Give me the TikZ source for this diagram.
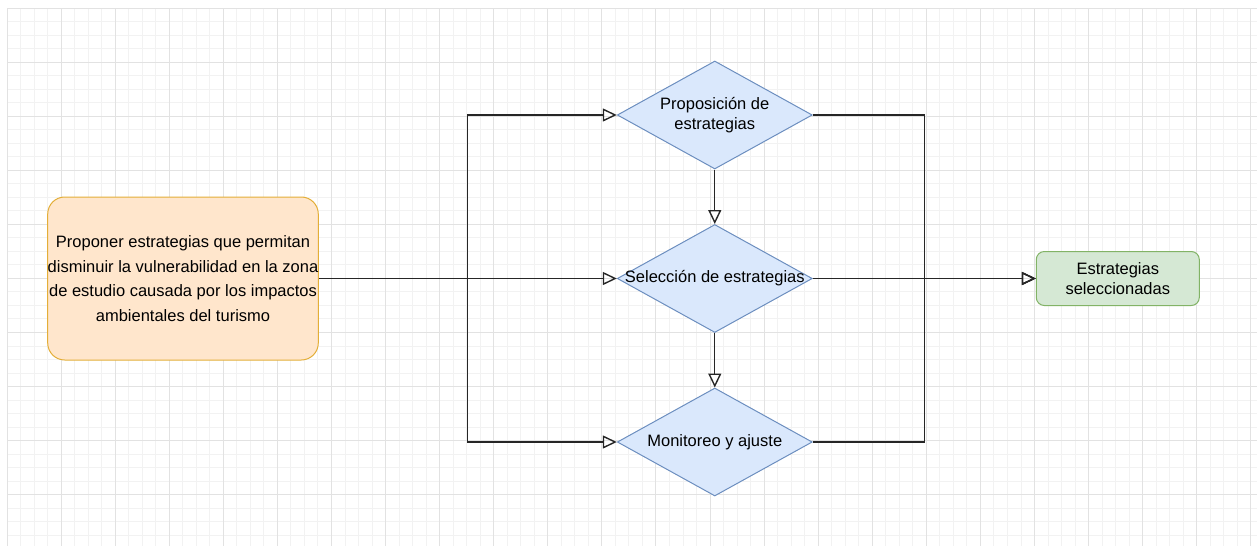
\documentclass[tikz,border=0pt]{standalone}
\usepackage{fontspec}
\setmainfont{Liberation Sans}
\usepackage{tikz}
\usetikzlibrary{arrows.meta, positioning, shapes.geometric, calc}
\definecolor{gridminor}{HTML}{F2F2F2}
\definecolor{gridmajor}{HTML}{E2E2E2}
\definecolor{goalfill}{HTML}{FFE6CC}
\definecolor{goalline}{HTML}{E3AE38}
\definecolor{stepfill}{HTML}{DAE8FC}
\definecolor{stepline}{HTML}{6C8EBF}
\definecolor{endfill}{HTML}{D5E8D4}
\definecolor{endline}{HTML}{82B366}
\newcommand{\Centred}[1]{\makebox[0pt]{\begin{tabular}{@{}c@{}}#1\end{tabular}}}
\tikzset{
    goalbox/.style={draw=goalline, fill=goalfill, line width=1pt, rounded corners=17pt,
        inner sep=0pt, minimum width=270pt, minimum height=163pt, align=center,
        font=\fontsize{16.5}{24.7}\selectfont},
    stepbox/.style={diamond, draw=stepline, fill=stepfill, line width=1pt, inner sep=0pt,
        minimum width=195pt, minimum height=108pt, font=\fontsize{16.5}{20}\selectfont},
    endbox/.style={draw=endline, fill=endfill, line width=1pt, rounded corners=8pt,
        inner sep=0pt, minimum width=163pt, minimum height=54pt, align=center,
        font=\fontsize{16.5}{20}\selectfont},
    flow/.style={-{Triangle[open, length=14pt, width=13pt, line width=1.4pt]}, line width=1.2pt, draw=black!85},
}
\begin{document}
\begin{tikzpicture}[x=1pt, y=-1pt]
    \useasboundingbox (0,0) rectangle (1260,546);

    % background grid
    \foreach \i in {0,...,92}
      \draw[gridminor, line width=1pt] ({7+13.52*\i},8) -- ({7+13.52*\i},546);
    \foreach \j in {0,...,39}
      \draw[gridminor, line width=1pt] (7,{8+13.52*\j}) -- (1257,{8+13.52*\j});
    \foreach \i in {0,...,23}
      \draw[gridmajor, line width=1pt] ({7+54.08*\i},8) -- ({7+54.08*\i},546);
    \foreach \j in {0,...,9}
      \draw[gridmajor, line width=1pt] (7,{8+54.08*\j}) -- (1257,{8+54.08*\j});

    \node[goalbox] (goal) at (183,278.5)
      {Proponer estrategias que permitan\\disminuir la vulnerabilidad en la zona\\de estudio causada por los impactos\\ambientales del turismo};

    \node[stepbox, right=298pt of goal] (sel) {\Centred{Selección de estrategias}};
    \node[stepbox, above=54.5pt of sel] (prop) {\Centred{Proposición de\\estrategias}};
    \node[stepbox, below=54.5pt of sel] (mon) {\Centred{Monitoreo y ajuste}};

    \node[endbox, right=223pt of sel] (res) {Estrategias\\seleccionadas};

    \coordinate (lbus) at ([xshift=149pt]goal.east);
    \coordinate (rbus) at ([xshift=112pt]sel.east);

    \draw[flow] (goal.east) -- (sel.west);
    \draw[flow] (goal.east) -- (lbus) |- (prop.west);
    \draw[flow] (goal.east) -- (lbus) |- (mon.west);

    \draw[flow] (prop.south) -- (sel.north);
    \draw[flow] (sel.south) -- (mon.north);

    \draw[flow] (sel.east) -- (res.west);
    \draw[flow] (prop.east) -| (rbus) -- (res.west);
    \draw[flow] (mon.east) -| (rbus) -- (res.west);
  \end{tikzpicture}
\end{document}
